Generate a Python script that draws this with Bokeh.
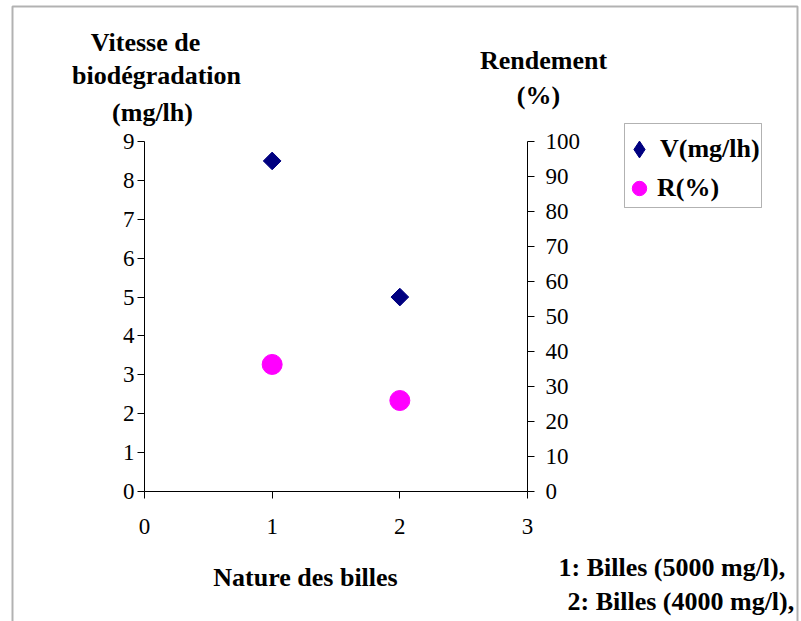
import math

from bokeh.core.properties import value
from bokeh.embed import file_html
from bokeh.models import (BoxAnnotation, FixedTicker, Label, Legend, LegendItem,
                          LinearAxis, Range1d)
from bokeh.plotting import figure
from bokeh.resources import INLINE

# --- data -----------------------------------------------------------------
billes = [1, 2]                 # 1: Billes (5000 mg/l), 2: Billes (4000 mg/l)
vitesse = [8.5, 5.0]            # V (mg/lh)
rendement = [36.3, 26.0]        # R (%)

x_ticks = [0, 1, 2, 3]
v_ticks = list(range(0, 10))
r_ticks = list(range(0, 101, 10))

# --- layout ---------------------------------------------------------------
W, H = 801, 621
FL, FR, FT, FB = 144, 527, 141, 491          # axis box edges in px
X0, X1, V0, V1, R0, R1 = 0, 3, 0, 9, 0, 100

SERIF = "Liberation Serif"


def span(lo, hi, p_lo, p_hi, p_min, p_max):
    """Range whose [lo, hi] sits between pixels p_lo..p_hi of a p_min..p_max canvas."""
    k = (hi - lo) / (p_hi - p_lo)
    return lo - (p_lo - p_min) * k, hi + (p_max - p_hi) * k


xs, xe = span(X0, X1, FL, FR, 0, W)
vs, ve = span(V0, V1, H - FB, H - FT, 0, H)
rs, re = span(R0, R1, H - FB, H - FT, 0, H)


def dx(px):
    return xs + px * (xe - xs) / W


def dy(py):
    return vs + (H - py) * (ve - vs) / H


p = figure(width=W, height=H, output_backend="svg", toolbar_location=None,
           title=None, x_range=Range1d(xs, xe), y_range=Range1d(vs, ve),
           x_axis_type=None, y_axis_type=None,
           min_border=0, min_border_left=0, min_border_right=0,
           min_border_top=0, min_border_bottom=0)
p.extra_y_ranges = {"r": Range1d(rs, re)}

p.outline_line_color = None
p.background_fill_color = "white"
p.border_fill_color = "white"


def styled_axis(ticks, bounds, loc, standoff, **kw):
    ax = LinearAxis(ticker=FixedTicker(ticks=ticks), bounds=bounds,
                    fixed_location=loc, **kw)
    ax.major_tick_in = 0
    ax.major_tick_out = 7
    ax.minor_tick_line_color = None
    ax.axis_line_color = "black"
    ax.axis_line_width = 1
    ax.major_tick_line_color = "black"
    ax.major_label_text_font = SERIF
    ax.major_label_text_font_size = "23px"
    ax.major_label_text_color = "black"
    ax.major_label_standoff = standoff
    return ax


p.add_layout(styled_axis(x_ticks, (X0, X1), V0, 20), "below")
p.add_layout(styled_axis(v_ticks, (V0, V1), X0, 3), "left")
p.add_layout(styled_axis(r_ticks, (R0, R1), X1, 11, y_range_name="r"), "right")

# --- outer frame and legend box --------------------------------------------
p.add_layout(BoxAnnotation(left=dx(12), right=dx(797), top=dy(6), bottom=dy(700),
                           fill_color=None, line_color="black", line_width=2))
p.add_layout(BoxAnnotation(left=dx(624), right=dx(761), top=dy(123), bottom=dy(207),
                           fill_color="white", fill_alpha=1, line_color="black",
                           line_width=1))

# --- series ---------------------------------------------------------------
navy, magenta = "#000080", "#FF00FF"
# key glyph for the legend, hidden under the plotted diamonds
rv_key = p.scatter(billes, vitesse, marker="diamond", size=15,
                   fill_color=navy, line_color=navy)
rv = p.scatter(billes, vitesse, marker="square", angle=math.pi / 4, size=12.5,
               fill_color=navy, line_color=navy)
rr = p.scatter(billes, rendement, y_range_name="r", marker="circle", size=20,
               fill_color=magenta, line_color=magenta)


def legend(label, renderer, glyph, loc):
    return Legend(items=[LegendItem(label=value(label), renderers=[renderer])],
                  location=loc, glyph_width=glyph, glyph_height=glyph,
                  padding=0, margin=0, spacing=0, label_standoff=0,
                  border_line_color=None, background_fill_alpha=0,
                  label_text_font=SERIF, label_text_font_size="26px",
                  label_text_font_style="bold", label_text_color="black")


p.add_layout(legend("V(mg/lh)", rv_key, 42, (618, H - 170)))
p.add_layout(legend("R(%)", rr, 36, (621, H - 206)))


# --- texts ---------------------------------------------------------------
def text(px, py, s, align="center", size="26px", bold=True):
    p.add_layout(Label(x=dx(px), y=dy(py), text=s, text_align=align,
                       text_baseline="alphabetic", text_font=SERIF,
                       text_font_size=size,
                       text_font_style="bold" if bold else "normal",
                       text_color="black"))


text(145, 42, "Vitesse de")
text(156, 75, "biodégradation")
text(152, 112, "(mg/lh)")
text(543, 60, "Rendement")
text(538, 95, "(%)")
text(305, 577, "Nature des billes")
text(558, 567, "1: Billes (5000 mg/l),", align="left")
text(567, 601, "2: Billes (4000 mg/l),", align="left")

open("out.html", "w").write(file_html(p, INLINE))
